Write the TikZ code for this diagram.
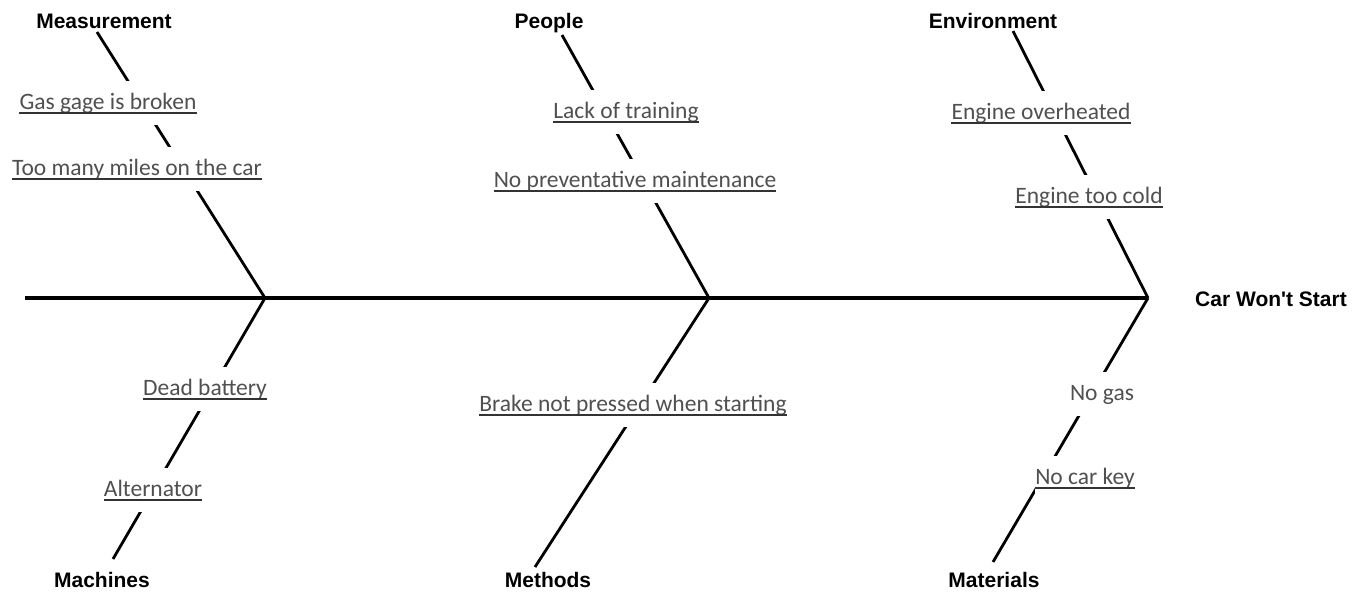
\documentclass[tikz,border=0pt]{standalone}
\usepackage{fontspec}
\newfontfamily\catfont{Liberation Sans}
\newfontfamily\causefont{Carlito}
\definecolor{causegray}{HTML}{505050}
\newcommand\causeline[1]{\draw[uline] ([yshift=-4pt]#1.base west) -- ([yshift=-4pt]#1.base east);}
\begin{document}
\begin{tikzpicture}[x=1pt,y=-1pt,
  cat/.style={font=\catfont\bfseries\fontsize{21}{24}\selectfont, anchor=base, inner sep=0pt},
  cause/.style={font=\causefont\fontsize{23.5}{28}\selectfont, text=causegray, anchor=base, fill=white, inner xsep=0pt, inner ysep=11pt, text height=17pt, text depth=5pt},
  bone/.style={line width=2.8pt},
  spine/.style={line width=3.4pt},
  uline/.style={line width=1.6pt, draw=black!80}]
\useasboundingbox (0,0) rectangle (1367,592);
% coordinates
\coordinate (tail) at (25,298);
\coordinate (J1) at (265,298);
\coordinate (J2) at (709,298);
\coordinate (J3) at (1148,298);
\coordinate (mTop) at (97,32);
\coordinate (pTop) at (562,35);
\coordinate (eTop) at (1013,31);
\coordinate (maBot) at (113,559);
\coordinate (meBot) at (535,567);
\coordinate (mtBot) at (993,562);
% spine and bones
\draw[spine] (tail) -- (J1) -- (J2) -- (J3);
\draw[bone] (mTop) -- (J1);
\draw[bone] (pTop) -- (J2);
\draw[bone] (eTop) -- (J3);
\draw[bone] (J1) -- (maBot);
\draw[bone] (J2) -- (meBot);
\draw[bone] (J3) -- (mtBot);
% categories
\node[cat] (measurement) at (104,28) {Measurement};
\node[cat] (people) at (549,28) {People};
\node[cat] (environment) at (993,28) {Environment};
\node[cat] (machines) at (102,587) {Machines};
\node[cat] (methods) at (548,587) {Methods};
\node[cat] (materials) at (994,587) {Materials};
\node[cat, anchor=base west] (effect) at (1195,306) {Car Won't Start};
% causes
\node[cause] (c1) at (108,109) {Gas gage is broken};
\node[cause] (c2) at (137,175) {Too many miles on the car};
\node[cause] (c3) at (626,118) {Lack of training};
\node[cause] (c4) at (635,187) {No preventative maintenance};
\node[cause] (c5) at (1041,119) {Engine overheated};
\node[cause] (c6) at (1089,203) {Engine too cold};
\node[cause] (c7) at (205,395) {Dead battery};
\node[cause] (c8) at (153,496) {Alternator};
\node[cause] (c9) at (633,411) {Brake not pressed when starting};
\node[cause] (c10) at (1102,400) {No gas};
\node[cause] (c11) at (1085,484) {No car key};
\causeline{c1}
\causeline{c2}
\causeline{c3}
\causeline{c4}
\causeline{c5}
\causeline{c6}
\causeline{c7}
\causeline{c8}
\causeline{c9}
\causeline{c11}
\end{tikzpicture}
\end{document}
